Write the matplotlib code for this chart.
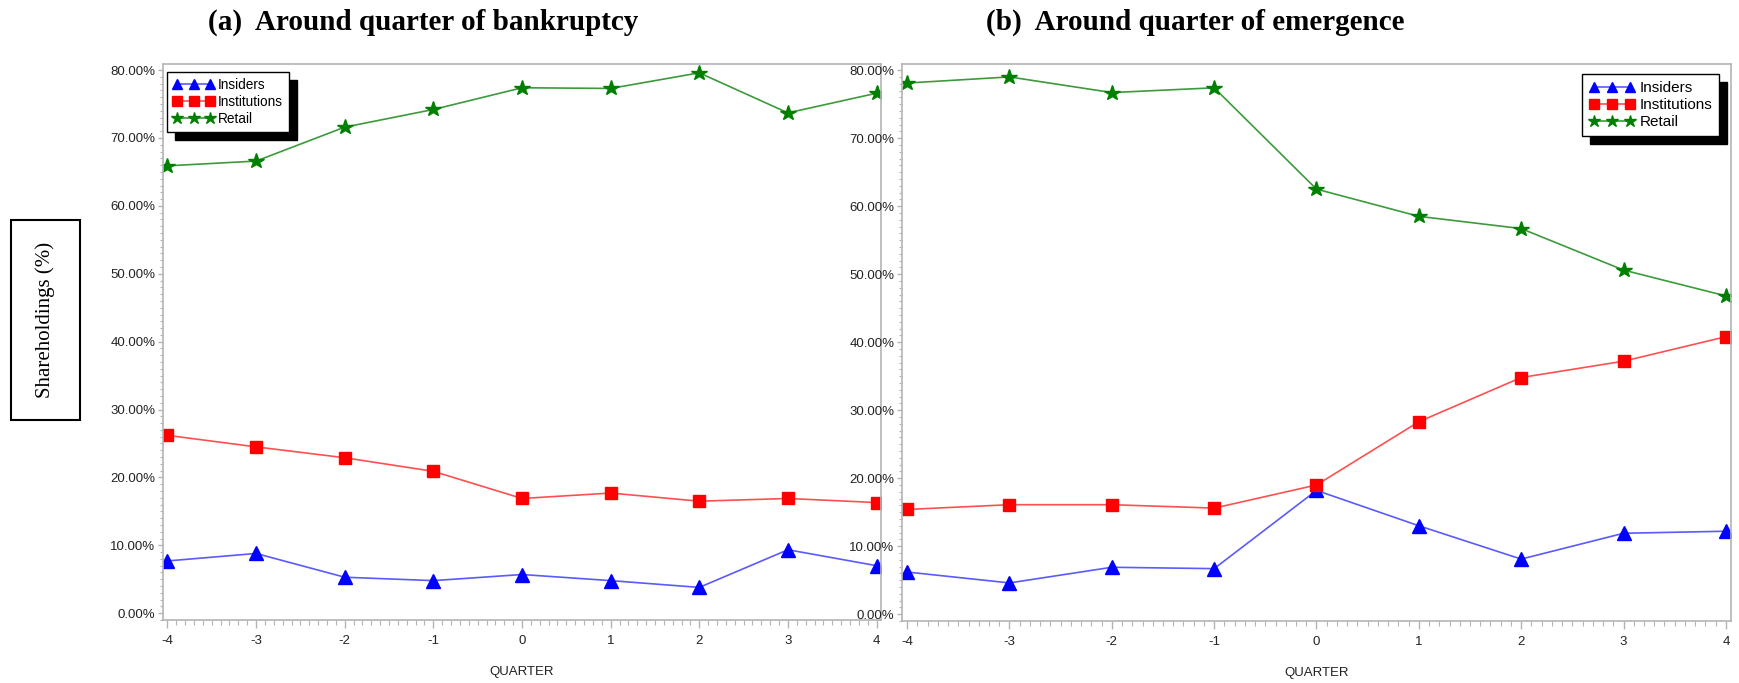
"""Ownership structure around bankruptcy filing and emergence quarters."""

import matplotlib

matplotlib.use("Agg")
import matplotlib.pyplot as plt
from matplotlib.patches import Rectangle
from matplotlib.ticker import FuncFormatter, MultipleLocator

plt.rcParams["axes.unicode_minus"] = False

QUARTERS = [-4, -3, -2, -1, 0, 1, 2, 3, 4]

# (a) quarters relative to bankruptcy filing
BK_INSIDERS = [7.7, 8.8, 5.3, 4.8, 5.7, 4.8, 3.8, 9.35, 7.0]
BK_INSTITUTIONS = [26.2, 24.5, 22.9, 20.9, 16.9, 17.7, 16.5, 16.9, 16.3]
BK_RETAIL = [65.9, 66.6, 71.6, 74.2, 77.4, 77.3, 79.6, 73.7, 76.6]

# (b) quarters relative to emergence
EM_INSIDERS = [6.2, 4.6, 6.9, 6.7, 18.2, 13.0, 8.1, 11.9, 12.2]
EM_INSTITUTIONS = [15.4, 16.1, 16.1, 15.6, 19.0, 28.3, 34.8, 37.2, 40.8]
EM_RETAIL = [78.1, 79.0, 76.7, 77.4, 62.5, 58.5, 56.7, 50.6, 46.8]

TITLES = ["(a)  Around quarter of bankruptcy", "(b)  Around quarter of emergence"]

SERIES_STYLE = [
    ("Insiders", "^", "#0000ff", "#5a5aff", 10.5),
    ("Institutions", "s", "#ff0000", "#ff5050", 9),
    ("Retail", "*", "#008000", "#3c9a3c", 11.5),
]

SANS = ["Liberation Sans Narrow", "Liberation Sans", "DejaVu Sans"]
SERIF = ["Liberation Serif", "DejaVu Serif"]
FRAME = "#b4b4b4"

fig = plt.figure(figsize=(17.4, 6.83), dpi=100)
W, H = 1740, 683


def px_axes(left, top, right, bottom):
    return fig.add_axes([left / W, 1 - bottom / H, (right - left) / W, (bottom - top) / H])


# axes box, data, legend anchor (pixels), corner, legend font size, title centre x
panels = [
    (px_axes(163, 64, 881, 620), [BK_INSIDERS, BK_INSTITUTIONS, BK_RETAIL],
     (167, 72), "upper left", 9.8, 423),
    (px_axes(902, 64, 1731, 621), [EM_INSIDERS, EM_INSTITUTIONS, EM_RETAIL],
     (1719, 74), "upper right", 11, 1195),
]

for (ax, series, anchor, loc, leg_size, title_x), title in zip(panels, TITLES):
    for values, (label, marker, mcolor, lcolor, ms) in zip(series, SERIES_STYLE):
        ax.plot(QUARTERS, values, color=lcolor, linewidth=1.2, marker=marker,
                markersize=ms, markerfacecolor=mcolor, markeredgecolor=mcolor,
                label=label)

    ax.set_xlim(-4.05, 4.05)
    ax.set_ylim(-1.0, 80.9)
    ax.xaxis.set_major_locator(MultipleLocator(1))
    ax.xaxis.set_minor_locator(MultipleLocator(0.1))
    ax.yaxis.set_major_locator(MultipleLocator(10))
    ax.yaxis.set_minor_locator(MultipleLocator(1))
    ax.yaxis.set_major_formatter(FuncFormatter(lambda v, _: f"{v:.2f}%"))
    ax.tick_params(which="major", width=1, color=FRAME, labelsize=9.5,
                   labelcolor="#222222")
    ax.tick_params(axis="y", which="major", length=3.5, pad=2)
    ax.tick_params(axis="y", which="minor", length=2, width=0.8, color=FRAME)
    ax.tick_params(axis="x", which="major", length=5.5, pad=5)
    ax.tick_params(axis="x", which="minor", length=3.5, width=0.8, color=FRAME)
    for lab in ax.get_xticklabels() + ax.get_yticklabels():
        lab.set_family(SANS)
    for sp in ax.spines.values():
        sp.set_color(FRAME)
        sp.set_linewidth(1.2)
    ax.set_xlabel("QUARTER", family=SANS, fontsize=9.5, color="#222222", labelpad=14)

    leg = ax.legend(loc=loc, bbox_to_anchor=(anchor[0] / W, 1 - anchor[1] / H),
                    bbox_transform=fig.transFigure, borderaxespad=0,
                    numpoints=3, handlelength=3.0, handletextpad=0.3,
                    borderpad=0.45, labelspacing=0.2, fancybox=False,
                    framealpha=1, edgecolor="black",
                    prop={"family": SANS, "size": leg_size},
                    shadow={"ox": 6, "oy": -6, "facecolor": "black",
                            "edgecolor": "black", "alpha": 1})
    leg.get_frame().set_linewidth(1.0)
    for handle in leg.legend_handles:
        handle.set_markersize(handle.get_markersize() * 0.75)

    fig.text(title_x / W, 1 - 22 / H, title, family=SERIF, fontsize=21,
             fontweight="bold", ha="center", va="center")

# boxed y label on the left
fig.patches.append(Rectangle((11 / W, 1 - 420 / H), 69 / W, 200 / H,
                             transform=fig.transFigure, fill=False,
                             edgecolor="black", linewidth=1.5))
fig.text(45 / W, 1 - 320 / H, "Shareholdings (%)", rotation=90, ha="center",
         va="center", family=SERIF, fontsize=15)

fig.savefig("out.png", dpi=100, facecolor="white")
